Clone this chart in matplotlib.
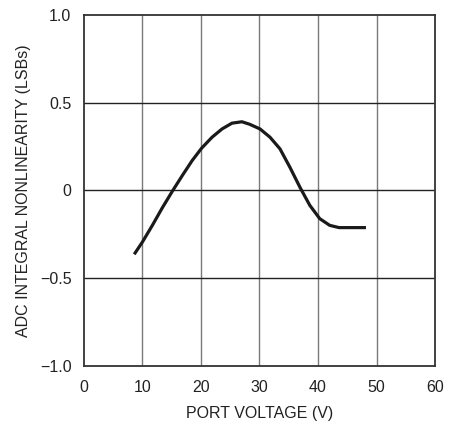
import matplotlib
matplotlib.use("Agg")
import matplotlib.pyplot as plt
from matplotlib import font_manager

# curva
voltage = [8.6, 10.0, 11.7, 13.4, 15.2, 16.9, 18.5, 20.1, 21.9, 23.6, 25.3,
           27.0, 28.3, 30.1, 31.8, 33.5, 35.2, 36.9, 38.6, 40.3, 42.0, 43.6,
           48.2]
inl = [-0.364, -0.294, -0.199, -0.099, 0.0, 0.089, 0.170, 0.240, 0.303,
       0.350, 0.383, 0.391, 0.377, 0.350, 0.303, 0.237, 0.132, 0.019,
       -0.085, -0.161, -0.199, -0.212, -0.212]

x_ticks = [0, 10, 20, 30, 40, 50, 60]
y_ticks = [-1.0, -0.5, 0, 0.5, 1.0]
y_labels = ["\u22121.0", "\u22120.5", "0", "0.5", "1.0"]

names = {f.name for f in font_manager.fontManager.ttflist}
fam = "Liberation Sans Narrow" if "Liberation Sans Narrow" in names else "Liberation Sans"
plt.rcParams["font.family"] = [fam, "DejaVu Sans"]

fig = plt.figure(figsize=(4.56, 4.25), dpi=100)
ax = fig.add_axes([0.184, 0.139, 0.770, 0.826])

for xv in x_ticks[1:-1]:
    ax.axvline(xv, color="#7a7a7a", lw=1.0, zorder=1)
for yv in y_ticks[1:-1]:
    ax.axhline(yv, color="#222222", lw=1.0, zorder=1)

ax.plot(voltage, inl, color="#1a1a1a", lw=2.3, solid_capstyle="butt",
        solid_joinstyle="round", zorder=3)

ax.set_xlim(0, 60)
ax.set_ylim(-1.0, 1.0)
ax.set_xticks(x_ticks)
ax.set_yticks(y_ticks)
ax.set_yticklabels(y_labels)
ax.tick_params(length=0, labelsize=11.5, colors="#222222")
ax.tick_params(axis="x", pad=10)
ax.tick_params(axis="y", pad=9)

for s in ax.spines.values():
    s.set_linewidth(1.3)
    s.set_color("#333333")

ax.set_xlabel("PORT VOLTAGE (V)", fontsize=11.5, color="#222222", labelpad=8)
ax.set_ylabel("ADC INTEGRAL NONLINEARITY (LSBs)", fontsize=11.5,
              color="#222222", labelpad=6)

fig.savefig("out.png", dpi=100)
